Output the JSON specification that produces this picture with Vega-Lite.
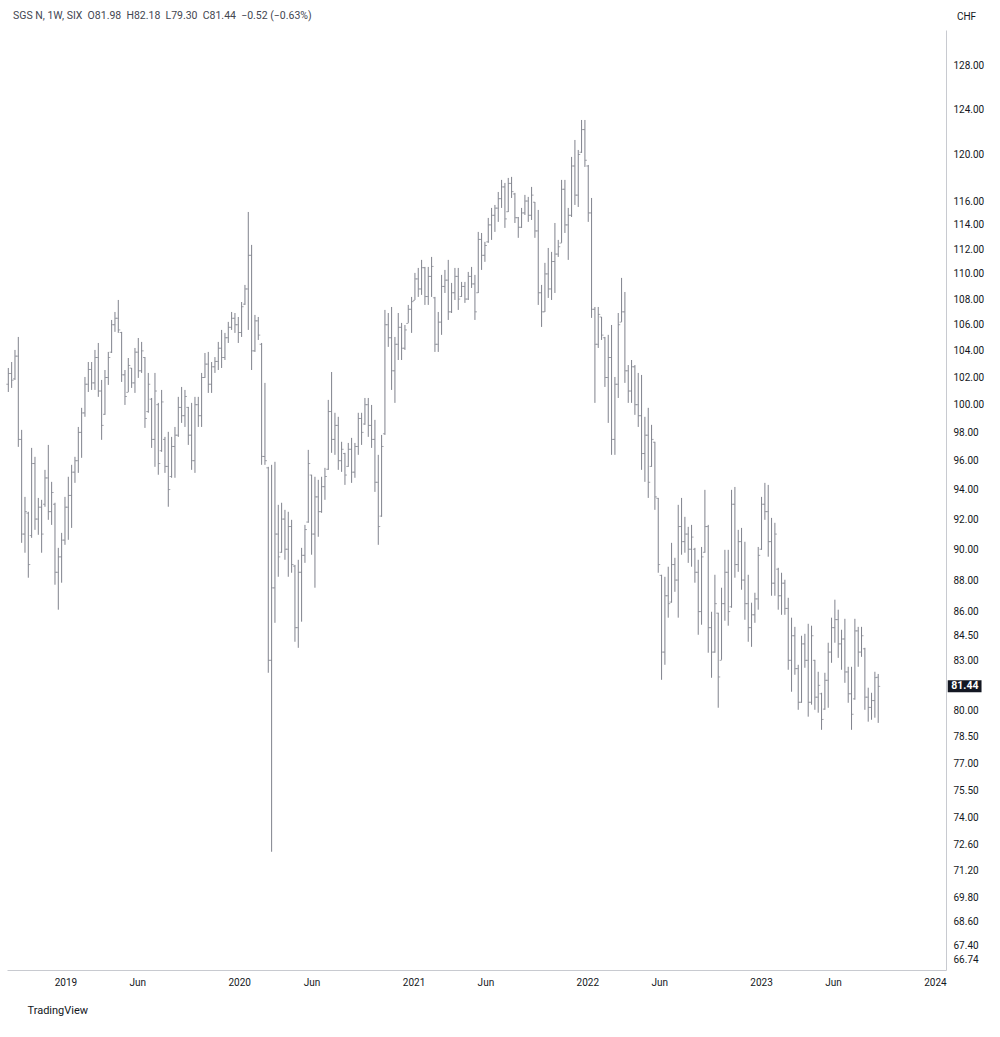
{
  "$schema": "https://vega.github.io/schema/vega-lite/v6.json",
  "width": 939,
  "height": 940,
  "autosize": {"type": "none"},
  "padding": {"left": 7, "top": 30, "right": 54, "bottom": 67},
  "background": "white",
  "title": {
    "text": "SGS N, 1W, SIX\u00a0\u00a0O81.98\u00a0\u00a0H82.18\u00a0\u00a0L79.30\u00a0\u00a0C81.44\u00a0\u00a0\u22120.52 (\u22120.63%)",
    "anchor": "start",
    "frame": "group",
    "dx": 6,
    "dy": 20,
    "offset": 10,
    "font": "Roboto",
    "fontSize": 10.5,
    "fontWeight": "normal",
    "color": "#434651"
  },
  "datasets": {
    "p": [
      {"d":"2018-09-03","o":101.5,"h":102.71,"l":100.93,"c":102.3},
      {"d":"2018-09-10","o":102.3,"h":103.16,"l":101.23,"c":101.8},
      {"d":"2018-09-17","o":101.9,"h":104.07,"l":101.82,"c":103.6},
      {"d":"2018-09-24","o":103.6,"h":105.06,"l":96.97,"c":97.5},
      {"d":"2018-10-01","o":97.5,"h":98.18,"l":90.42,"c":91.0},
      {"d":"2018-10-08","o":91.0,"h":93.5,"l":89.77,"c":92.5},
      {"d":"2018-10-15","o":92.4,"h":92.49,"l":88.15,"c":89.0},
      {"d":"2018-10-22","o":90.9,"h":96.9,"l":90.75,"c":95.8},
      {"d":"2018-10-29","o":95.8,"h":96.27,"l":91.28,"c":92.0},
      {"d":"2018-11-05","o":92.0,"h":93.43,"l":90.95,"c":92.8},
      {"d":"2018-11-12","o":92.8,"h":93.3,"l":89.77,"c":91.0},
      {"d":"2018-11-19","o":93.0,"h":95.36,"l":92.83,"c":94.8},
      {"d":"2018-11-26","o":94.8,"h":97.11,"l":91.95,"c":92.5},
      {"d":"2018-12-03","o":92.5,"h":94.53,"l":91.61,"c":93.8},
      {"d":"2018-12-10","o":93.0,"h":93.1,"l":87.7,"c":88.5},
      {"d":"2018-12-17","o":88.5,"h":90.09,"l":86.12,"c":89.5},
      {"d":"2018-12-24","o":89.5,"h":91.08,"l":87.83,"c":90.6},
      {"d":"2018-12-31","o":90.6,"h":93.5,"l":90.29,"c":92.8},
      {"d":"2019-01-07","o":92.8,"h":94.88,"l":90.62,"c":93.6},
      {"d":"2019-01-14","o":93.6,"h":95.71,"l":91.41,"c":95.2},
      {"d":"2019-01-21","o":95.2,"h":96.27,"l":94.46,"c":96.0},
      {"d":"2019-01-28","o":96.0,"h":98.39,"l":95.15,"c":98.0},
      {"d":"2019-02-04","o":98.0,"h":99.77,"l":96.2,"c":99.4},
      {"d":"2019-02-11","o":99.4,"h":102.04,"l":99.12,"c":101.5},
      {"d":"2019-02-18","o":101.5,"h":103.16,"l":100.93,"c":102.6},
      {"d":"2019-02-25","o":102.6,"h":103.16,"l":101.08,"c":101.6},
      {"d":"2019-03-04","o":101.6,"h":104.07,"l":101.08,"c":103.5},
      {"d":"2019-03-11","o":103.5,"h":104.6,"l":100.57,"c":101.0},
      {"d":"2019-03-18","o":101.0,"h":101.82,"l":97.47,"c":98.5},
      {"d":"2019-03-25","o":99.3,"h":102.56,"l":99.26,"c":102.0},
      {"d":"2019-04-01","o":102.0,"h":103.92,"l":101.45,"c":103.5},
      {"d":"2019-04-08","o":103.9,"h":106.37,"l":103.84,"c":106.0},
      {"d":"2019-04-15","o":106.0,"h":106.99,"l":105.45,"c":106.5},
      {"d":"2019-04-22","o":106.5,"h":107.93,"l":105.37,"c":105.6},
      {"d":"2019-04-29","o":105.4,"h":105.45,"l":101.67,"c":102.2},
      {"d":"2019-05-06","o":102.2,"h":102.56,"l":99.98,"c":100.6},
      {"d":"2019-05-13","o":100.9,"h":103.46,"l":100.93,"c":102.9},
      {"d":"2019-05-20","o":102.7,"h":102.71,"l":101.23,"c":101.6},
      {"d":"2019-05-27","o":101.6,"h":104.22,"l":100.86,"c":103.9},
      {"d":"2019-06-03","o":103.9,"h":104.98,"l":101.97,"c":102.5},
      {"d":"2019-06-10","o":102.5,"h":104.68,"l":102.34,"c":104.0},
      {"d":"2019-06-17","o":103.5,"h":103.53,"l":98.32,"c":99.0},
      {"d":"2019-06-24","o":99.5,"h":102.34,"l":99.41,"c":101.5},
      {"d":"2019-07-01","o":100.4,"h":100.49,"l":96.9,"c":97.5},
      {"d":"2019-07-08","o":97.5,"h":102.34,"l":95.57,"c":101.0},
      {"d":"2019-07-15","o":100.0,"h":100.13,"l":95.02,"c":95.8},
      {"d":"2019-07-22","o":96.7,"h":101.08,"l":96.62,"c":100.2},
      {"d":"2019-07-29","o":97.5,"h":97.68,"l":95.15,"c":95.6},
      {"d":"2019-08-05","o":95.6,"h":98.04,"l":92.83,"c":94.0},
      {"d":"2019-08-12","o":94.9,"h":97.68,"l":94.81,"c":97.0},
      {"d":"2019-08-19","o":97.0,"h":98.39,"l":94.81,"c":97.8},
      {"d":"2019-08-26","o":97.8,"h":100.57,"l":97.68,"c":99.8},
      {"d":"2019-09-02","o":99.8,"h":101.3,"l":98.68,"c":99.2},
      {"d":"2019-09-09","o":99.2,"h":101.08,"l":98.39,"c":100.6},
      {"d":"2019-09-16","o":99.8,"h":99.84,"l":97.11,"c":97.8},
      {"d":"2019-09-23","o":97.8,"h":100.13,"l":95.36,"c":96.0},
      {"d":"2019-09-30","o":96.0,"h":100.57,"l":95.15,"c":100.0},
      {"d":"2019-10-07","o":100.0,"h":100.57,"l":98.39,"c":99.2},
      {"d":"2019-10-14","o":99.2,"h":102.34,"l":98.39,"c":102.0},
      {"d":"2019-10-21","o":102.0,"h":103.84,"l":101.97,"c":103.0},
      {"d":"2019-10-28","o":103.0,"h":103.92,"l":100.86,"c":101.5},
      {"d":"2019-11-04","o":101.5,"h":103.16,"l":100.86,"c":102.8},
      {"d":"2019-11-11","o":102.8,"h":103.53,"l":102.34,"c":103.2},
      {"d":"2019-11-18","o":103.2,"h":104.68,"l":102.56,"c":104.2},
      {"d":"2019-11-25","o":104.2,"h":105.6,"l":102.71,"c":103.5},
      {"d":"2019-12-02","o":103.5,"h":105.37,"l":103.31,"c":105.0},
      {"d":"2019-12-09","o":105.0,"h":106.22,"l":104.6,"c":105.8},
      {"d":"2019-12-16","o":105.8,"h":106.99,"l":105.6,"c":106.5},
      {"d":"2019-12-23","o":106.5,"h":106.91,"l":105.37,"c":106.0},
      {"d":"2019-12-30","o":106.0,"h":106.6,"l":104.6,"c":105.4},
      {"d":"2020-01-06","o":105.4,"h":107.77,"l":105.06,"c":107.4},
      {"d":"2020-01-13","o":107.6,"h":109.12,"l":107.54,"c":108.8},
      {"d":"2020-01-20","o":108.8,"h":115.08,"l":105.6,"c":111.5},
      {"d":"2020-01-27","o":111.5,"h":112.35,"l":102.56,"c":104.0},
      {"d":"2020-02-03","o":104.0,"h":106.76,"l":103.92,"c":106.3},
      {"d":"2020-02-10","o":106.3,"h":106.6,"l":104.83,"c":105.2},
      {"d":"2020-02-17","o":104.5,"h":104.6,"l":95.71,"c":96.3},
      {"d":"2020-02-24","o":96.3,"h":101.6,"l":95.71,"c":96.0},
      {"d":"2020-03-02","o":95.5,"h":95.57,"l":82.25,"c":83.0},
      {"d":"2020-03-09","o":83.0,"h":95.71,"l":72.19,"c":87.5},
      {"d":"2020-03-16","o":87.5,"h":95.92,"l":85.3,"c":91.0},
      {"d":"2020-03-23","o":91.0,"h":92.96,"l":88.21,"c":89.5},
      {"d":"2020-03-30","o":89.8,"h":93.1,"l":89.77,"c":92.0},
      {"d":"2020-04-06","o":92.0,"h":92.62,"l":89.31,"c":90.0},
      {"d":"2020-04-13","o":90.0,"h":92.49,"l":88.21,"c":91.5},
      {"d":"2020-04-20","o":91.5,"h":91.95,"l":88.47,"c":89.0},
      {"d":"2020-04-27","o":88.9,"h":88.98,"l":84.13,"c":85.0},
      {"d":"2020-05-04","o":85.0,"h":89.31,"l":83.76,"c":88.5},
      {"d":"2020-05-11","o":88.5,"h":90.09,"l":85.37,"c":89.6},
      {"d":"2020-05-18","o":89.6,"h":91.61,"l":89.11,"c":91.3},
      {"d":"2020-05-25","o":91.8,"h":96.76,"l":91.75,"c":95.8},
      {"d":"2020-06-01","o":95.0,"h":95.02,"l":89.64,"c":91.0},
      {"d":"2020-06-08","o":91.0,"h":94.88,"l":87.51,"c":93.5},
      {"d":"2020-06-15","o":93.5,"h":94.67,"l":90.82,"c":92.5},
      {"d":"2020-06-22","o":92.5,"h":94.88,"l":92.42,"c":94.2},
      {"d":"2020-06-29","o":94.2,"h":95.5,"l":93.3,"c":94.9},
      {"d":"2020-07-06","o":95.4,"h":100.35,"l":95.36,"c":99.5},
      {"d":"2020-07-13","o":99.5,"h":102.41,"l":96.55,"c":97.5},
      {"d":"2020-07-20","o":97.5,"h":99.41,"l":96.41,"c":98.5},
      {"d":"2020-07-27","o":98.5,"h":99.12,"l":95.36,"c":96.0},
      {"d":"2020-08-03","o":96.0,"h":97.33,"l":95.22,"c":96.8},
      {"d":"2020-08-10","o":96.5,"h":96.55,"l":94.32,"c":95.0},
      {"d":"2020-08-17","o":95.6,"h":97.25,"l":95.57,"c":96.8},
      {"d":"2020-08-24","o":96.8,"h":97.61,"l":94.46,"c":95.2},
      {"d":"2020-08-31","o":95.2,"h":97.25,"l":94.81,"c":97.0},
      {"d":"2020-09-07","o":97.0,"h":99.41,"l":96.41,"c":99.0},
      {"d":"2020-09-14","o":99.0,"h":99.41,"l":97.11,"c":98.0},
      {"d":"2020-09-21","o":98.6,"h":100.49,"l":98.54,"c":100.0},
      {"d":"2020-09-28","o":100.0,"h":100.49,"l":97.68,"c":98.5},
      {"d":"2020-10-05","o":98.5,"h":99.98,"l":96.9,"c":97.5},
      {"d":"2020-10-12","o":97.5,"h":98.9,"l":93.84,"c":94.5},
      {"d":"2020-10-19","o":94.5,"h":96.41,"l":90.29,"c":91.5},
      {"d":"2020-10-26","o":92.2,"h":97.82,"l":92.15,"c":97.0},
      {"d":"2020-11-02","o":97.9,"h":107.15,"l":97.82,"c":106.0},
      {"d":"2020-11-09","o":106.0,"h":106.91,"l":104.3,"c":105.0},
      {"d":"2020-11-16","o":105.0,"h":107.38,"l":101.08,"c":102.5},
      {"d":"2020-11-23","o":102.5,"h":105.06,"l":100.13,"c":104.5},
      {"d":"2020-11-30","o":104.5,"h":106.91,"l":103.31,"c":105.8},
      {"d":"2020-12-07","o":105.8,"h":106.14,"l":103.31,"c":104.2},
      {"d":"2020-12-14","o":104.2,"h":105.98,"l":104.07,"c":105.6},
      {"d":"2020-12-21","o":106.1,"h":107.54,"l":106.14,"c":107.2},
      {"d":"2020-12-28","o":107.2,"h":108.17,"l":105.37,"c":107.8},
      {"d":"2021-01-04","o":107.9,"h":110.08,"l":107.93,"c":109.6},
      {"d":"2021-01-11","o":109.6,"h":110.48,"l":108.17,"c":108.8},
      {"d":"2021-01-18","o":108.8,"h":111.13,"l":108.33,"c":110.5},
      {"d":"2021-01-25","o":110.5,"h":110.56,"l":107.54,"c":108.2},
      {"d":"2021-02-01","o":108.2,"h":110.56,"l":107.54,"c":109.8},
      {"d":"2021-02-08","o":109.8,"h":111.37,"l":108.17,"c":110.6},
      {"d":"2021-02-15","o":108.1,"h":108.17,"l":103.92,"c":104.5},
      {"d":"2021-02-22","o":104.5,"h":106.99,"l":103.92,"c":106.2},
      {"d":"2021-03-01","o":106.2,"h":109.92,"l":105.22,"c":109.0},
      {"d":"2021-03-08","o":109.0,"h":110.32,"l":108.48,"c":109.5},
      {"d":"2021-03-15","o":109.5,"h":111.13,"l":106.37,"c":107.0},
      {"d":"2021-03-22","o":107.0,"h":109.28,"l":106.91,"c":108.5},
      {"d":"2021-03-29","o":108.5,"h":110.48,"l":107.93,"c":109.8},
      {"d":"2021-04-05","o":109.8,"h":110.48,"l":107.15,"c":108.0},
      {"d":"2021-04-12","o":108.2,"h":109.36,"l":108.17,"c":109.0},
      {"d":"2021-04-19","o":109.0,"h":109.36,"l":107.7,"c":108.0},
      {"d":"2021-04-26","o":108.0,"h":110.16,"l":107.93,"c":109.8},
      {"d":"2021-05-03","o":109.8,"h":110.56,"l":108.88,"c":109.2},
      {"d":"2021-05-10","o":109.2,"h":109.92,"l":106.37,"c":107.0},
      {"d":"2021-05-17","o":108.5,"h":113.42,"l":108.48,"c":112.8},
      {"d":"2021-05-24","o":112.8,"h":113.33,"l":110.32,"c":111.5},
      {"d":"2021-05-31","o":111.5,"h":112.6,"l":110.97,"c":112.3},
      {"d":"2021-06-07","o":112.6,"h":114.58,"l":112.52,"c":114.0},
      {"d":"2021-06-14","o":114.0,"h":115.42,"l":112.76,"c":114.8},
      {"d":"2021-06-21","o":114.8,"h":115.67,"l":113.42,"c":115.4},
      {"d":"2021-06-28","o":115.4,"h":116.77,"l":114.25,"c":116.2},
      {"d":"2021-07-05","o":116.2,"h":117.8,"l":115.42,"c":117.2},
      {"d":"2021-07-12","o":117.2,"h":117.54,"l":113.75,"c":114.5},
      {"d":"2021-07-19","o":115.1,"h":117.97,"l":115.08,"c":117.5},
      {"d":"2021-07-26","o":117.5,"h":118.06,"l":116.26,"c":116.8},
      {"d":"2021-08-02","o":116.6,"h":116.69,"l":114.16,"c":114.6},
      {"d":"2021-08-09","o":114.6,"h":114.66,"l":112.93,"c":113.8},
      {"d":"2021-08-16","o":113.8,"h":115.42,"l":113.75,"c":115.0},
      {"d":"2021-08-23","o":115.0,"h":116.52,"l":114.83,"c":116.0},
      {"d":"2021-08-30","o":116.0,"h":116.35,"l":114.25,"c":114.8},
      {"d":"2021-09-06","o":114.8,"h":117.2,"l":114.41,"c":116.5},
      {"d":"2021-09-13","o":115.9,"h":115.92,"l":112.93,"c":113.5},
      {"d":"2021-09-20","o":113.5,"h":115.25,"l":107.54,"c":108.5},
      {"d":"2021-09-27","o":108.5,"h":109.12,"l":105.83,"c":107.0},
      {"d":"2021-10-04","o":107.0,"h":110.89,"l":106.99,"c":110.0},
      {"d":"2021-10-11","o":110.0,"h":112.1,"l":108.09,"c":108.8},
      {"d":"2021-10-18","o":108.8,"h":111.78,"l":107.93,"c":111.0},
      {"d":"2021-10-25","o":111.0,"h":114.16,"l":108.48,"c":111.6},
      {"d":"2021-11-01","o":111.6,"h":112.76,"l":111.37,"c":112.2},
      {"d":"2021-11-08","o":112.5,"h":117.8,"l":112.52,"c":117.0},
      {"d":"2021-11-15","o":117.0,"h":117.8,"l":113.33,"c":114.0},
      {"d":"2021-11-22","o":114.0,"h":115.42,"l":111.13,"c":114.8},
      {"d":"2021-11-29","o":114.8,"h":119.79,"l":114.66,"c":119.0},
      {"d":"2021-12-06","o":119.0,"h":121.28,"l":115.67,"c":116.5},
      {"d":"2021-12-13","o":116.5,"h":120.4,"l":115.5,"c":120.0},
      {"d":"2021-12-20","o":120.2,"h":123.06,"l":120.14,"c":122.2},
      {"d":"2021-12-27","o":122.2,"h":123.06,"l":118.92,"c":119.5},
      {"d":"2022-01-03","o":119.0,"h":119.09,"l":114.25,"c":115.0},
      {"d":"2022-01-10","o":115.0,"h":116.26,"l":106.53,"c":107.2},
      {"d":"2022-01-17","o":107.2,"h":107.38,"l":100.13,"c":104.5},
      {"d":"2022-01-24","o":104.5,"h":107.38,"l":104.22,"c":106.8},
      {"d":"2022-01-31","o":106.6,"h":106.6,"l":104.83,"c":105.2},
      {"d":"2022-02-07","o":105.0,"h":105.06,"l":101.3,"c":102.0},
      {"d":"2022-02-14","o":102.0,"h":105.22,"l":98.68,"c":103.5},
      {"d":"2022-02-21","o":103.5,"h":105.98,"l":96.41,"c":97.5},
      {"d":"2022-02-28","o":97.5,"h":102.04,"l":96.41,"c":101.5},
      {"d":"2022-03-07","o":101.5,"h":106.91,"l":100.49,"c":106.0},
      {"d":"2022-03-14","o":106.2,"h":109.68,"l":106.22,"c":107.0},
      {"d":"2022-03-21","o":107.0,"h":108.56,"l":101.6,"c":102.5},
      {"d":"2022-03-28","o":102.5,"h":102.93,"l":100.13,"c":101.0},
      {"d":"2022-04-04","o":101.0,"h":103.31,"l":100.13,"c":102.8},
      {"d":"2022-04-11","o":102.8,"h":102.93,"l":99.26,"c":100.0},
      {"d":"2022-04-18","o":100.0,"h":102.34,"l":98.39,"c":99.2},
      {"d":"2022-04-25","o":99.2,"h":102.19,"l":95.36,"c":96.5},
      {"d":"2022-05-02","o":96.5,"h":99.12,"l":94.53,"c":97.8},
      {"d":"2022-05-09","o":97.8,"h":99.77,"l":93.43,"c":94.5},
      {"d":"2022-05-16","o":95.6,"h":98.54,"l":95.57,"c":97.5},
      {"d":"2022-05-23","o":97.3,"h":97.33,"l":92.62,"c":93.5},
      {"d":"2022-05-30","o":93.4,"h":93.43,"l":88.47,"c":89.0},
      {"d":"2022-06-06","o":88.3,"h":88.34,"l":81.83,"c":83.5},
      {"d":"2022-06-13","o":83.5,"h":88.21,"l":82.73,"c":87.0},
      {"d":"2022-06-20","o":87.0,"h":88.86,"l":85.62,"c":86.5},
      {"d":"2022-06-27","o":86.6,"h":90.42,"l":86.56,"c":89.0},
      {"d":"2022-07-04","o":89.0,"h":89.44,"l":87.25,"c":88.0},
      {"d":"2022-07-11","o":88.0,"h":92.96,"l":85.62,"c":91.5},
      {"d":"2022-07-18","o":91.5,"h":93.43,"l":89.64,"c":90.5},
      {"d":"2022-07-25","o":90.5,"h":92.15,"l":89.77,"c":91.0},
      {"d":"2022-08-01","o":91.0,"h":91.48,"l":89.11,"c":90.0},
      {"d":"2022-08-08","o":90.0,"h":91.61,"l":88.86,"c":90.8},
      {"d":"2022-08-15","o":90.0,"h":90.09,"l":87.83,"c":88.5},
      {"d":"2022-08-22","o":88.5,"h":89.31,"l":84.56,"c":86.0},
      {"d":"2022-08-29","o":86.0,"h":90.15,"l":85.18,"c":89.5},
      {"d":"2022-09-05","o":89.8,"h":93.98,"l":89.77,"c":91.5},
      {"d":"2022-09-12","o":91.5,"h":91.61,"l":83.46,"c":85.0},
      {"d":"2022-09-19","o":85.0,"h":85.99,"l":81.95,"c":83.5},
      {"d":"2022-09-26","o":83.5,"h":88.34,"l":83.46,"c":86.5},
      {"d":"2022-10-03","o":85.9,"h":85.93,"l":80.18,"c":82.0},
      {"d":"2022-10-10","o":83.0,"h":87.51,"l":83.03,"c":86.5},
      {"d":"2022-10-17","o":86.5,"h":89.96,"l":85.43,"c":88.5},
      {"d":"2022-10-24","o":88.5,"h":89.96,"l":85.12,"c":86.0},
      {"d":"2022-10-31","o":86.3,"h":93.98,"l":86.24,"c":93.0},
      {"d":"2022-11-07","o":93.0,"h":94.18,"l":88.15,"c":89.0},
      {"d":"2022-11-14","o":89.0,"h":91.28,"l":88.53,"c":90.5},
      {"d":"2022-11-21","o":90.5,"h":91.41,"l":87.38,"c":88.0},
      {"d":"2022-11-28","o":88.0,"h":90.49,"l":85.49,"c":86.5},
      {"d":"2022-12-05","o":86.5,"h":88.34,"l":84.13,"c":85.0},
      {"d":"2022-12-12","o":85.0,"h":86.56,"l":83.82,"c":85.8},
      {"d":"2022-12-19","o":85.8,"h":87.19,"l":85.3,"c":86.8},
      {"d":"2022-12-26","o":86.8,"h":90.15,"l":86.12,"c":89.6},
      {"d":"2023-01-02","o":90.0,"h":93.5,"l":89.96,"c":93.0},
      {"d":"2023-01-09","o":93.0,"h":94.46,"l":91.95,"c":92.5},
      {"d":"2023-01-16","o":92.5,"h":94.32,"l":89.51,"c":90.5},
      {"d":"2023-01-23","o":90.5,"h":92.08,"l":87.0,"c":87.8},
      {"d":"2023-01-30","o":87.8,"h":91.75,"l":87.0,"c":91.0},
      {"d":"2023-02-06","o":88.7,"h":88.79,"l":86.12,"c":87.0},
      {"d":"2023-02-13","o":87.0,"h":88.47,"l":85.8,"c":87.8},
      {"d":"2023-02-20","o":87.8,"h":88.02,"l":85.8,"c":86.2},
      {"d":"2023-02-27","o":86.2,"h":86.87,"l":82.43,"c":83.0},
      {"d":"2023-03-06","o":83.0,"h":85.62,"l":81.12,"c":84.5},
      {"d":"2023-03-13","o":84.5,"h":85.05,"l":82.13,"c":82.5},
      {"d":"2023-03-20","o":82.5,"h":82.73,"l":80.06,"c":80.5},
      {"d":"2023-03-27","o":80.5,"h":84.5,"l":80.47,"c":84.0},
      {"d":"2023-04-03","o":84.0,"h":84.62,"l":82.55,"c":83.0},
      {"d":"2023-04-10","o":83.0,"h":85.24,"l":79.66,"c":80.5},
      {"d":"2023-04-17","o":80.5,"h":85.12,"l":80.36,"c":84.5},
      {"d":"2023-04-24","o":83.0,"h":83.03,"l":80.06,"c":80.8},
      {"d":"2023-05-01","o":80.8,"h":82.31,"l":79.89,"c":81.5},
      {"d":"2023-05-08","o":81.0,"h":81.06,"l":78.9,"c":79.5},
      {"d":"2023-05-15","o":80.1,"h":82.25,"l":80.06,"c":81.8},
      {"d":"2023-05-22","o":81.8,"h":84.07,"l":80.18,"c":83.5},
      {"d":"2023-05-29","o":83.5,"h":85.62,"l":82.85,"c":85.0},
      {"d":"2023-06-05","o":85.0,"h":86.75,"l":84.07,"c":85.5},
      {"d":"2023-06-12","o":85.5,"h":86.12,"l":83.15,"c":84.0},
      {"d":"2023-06-19","o":84.0,"h":84.87,"l":82.43,"c":84.3},
      {"d":"2023-06-26","o":84.3,"h":85.55,"l":81.65,"c":82.3},
      {"d":"2023-07-03","o":82.3,"h":82.61,"l":80.47,"c":81.0},
      {"d":"2023-07-10","o":81.0,"h":82.61,"l":78.9,"c":79.8},
      {"d":"2023-07-17","o":80.7,"h":85.55,"l":80.65,"c":84.8},
      {"d":"2023-07-24","o":84.8,"h":85.05,"l":82.61,"c":83.5},
      {"d":"2023-07-31","o":83.5,"h":85.05,"l":83.21,"c":84.5},
      {"d":"2023-08-07","o":83.7,"h":83.76,"l":80.06,"c":80.8},
      {"d":"2023-08-14","o":80.8,"h":81.36,"l":79.37,"c":80.2},
      {"d":"2023-08-21","o":80.2,"h":81.06,"l":79.48,"c":80.6},
      {"d":"2023-08-28","o":80.6,"h":82.31,"l":79.6,"c":81.96},
      {"d":"2023-09-04","o":81.98,"h":82.18,"l":79.3,"c":81.44}
    ]
  },
  "data": {"name": "p"},
  "encoding": {
    "x": {
      "field": "d",
      "type": "temporal",
      "scale": {
        "type": "utc",
        "domain": [
          {"year": 2018, "month": 8, "date": 31, "hours": 6, "utc": true},
          {"year": 2024, "month": 1, "date": 24, "hours": 9, "utc": true}
        ]
      },
      "axis": {
        "orient": "bottom",
        "values": [
          {"year": 2019, "month": 1, "date": 1, "utc": true},
          {"year": 2019, "month": 6, "date": 1, "utc": true},
          {"year": 2020, "month": 1, "date": 1, "utc": true},
          {"year": 2020, "month": 6, "date": 1, "utc": true},
          {"year": 2021, "month": 1, "date": 1, "utc": true},
          {"year": 2021, "month": 6, "date": 1, "utc": true},
          {"year": 2022, "month": 1, "date": 1, "utc": true},
          {"year": 2022, "month": 6, "date": 1, "utc": true},
          {"year": 2023, "month": 1, "date": 1, "utc": true},
          {"year": 2023, "month": 6, "date": 1, "utc": true},
          {"year": 2024, "month": 1, "date": 1, "utc": true}
        ],
        "labelExpr": "utcFormat(datum.value, '%m') == '01' ? utcFormat(datum.value, '%Y') : utcFormat(datum.value, '%b')",
        "labelOverlap": false,
        "labelFlush": false,
        "labelPadding": 7,
        "ticks": false,
        "grid": false,
        "domainColor": "#c8cad0",
        "title": "TradingView",
        "titleAnchor": "start",
        "titleAlign": "left",
        "titleX": 20,
        "titleY": 40,
        "titleBaseline": "middle",
        "titleFont": "Roboto",
        "titleFontSize": 11,
        "titleFontWeight": "normal",
        "titleColor": "#131722"
      }
    }
  },
  "layer": [
    {
      "mark": {"type": "rule", "color": "#80838d", "strokeWidth": 1},
      "encoding": {
        "y": {
          "field": "l",
          "type": "quantitative",
          "scale": {"type": "log", "domain": [66.23, 131.4], "nice": false, "zero": false},
          "axis": {
            "orient": "right",
            "values": [128, 124, 120, 116, 114, 112, 110, 108, 106, 104, 102, 100, 98, 96, 94, 92, 90, 88, 86, 84.5, 83, 80, 78.5, 77, 75.5, 74, 72.6, 71.2, 69.8, 68.6, 67.4, 66.74],
            "format": ".2f",
            "labelOverlap": false,
            "labelAlign": "left",
            "labelPadding": 7,
            "ticks": false,
            "grid": false,
            "domainColor": "#c8cad0",
            "title": "CHF",
            "titleAngle": 0,
            "titleX": 20,
            "titleY": -14,
            "titleAlign": "center",
            "titleBaseline": "middle",
            "titleFont": "Roboto",
            "titleFontSize": 10,
            "titleFontWeight": "normal",
            "titleColor": "#131722"
          }
        },
        "y2": {"field": "h"}
      }
    },
    {
      "mark": {"type": "tick", "orient": "horizontal", "size": 2, "thickness": 1, "xOffset": -1, "color": "#80838d"},
      "encoding": {"y": {"field": "o", "type": "quantitative"}}
    },
    {
      "mark": {"type": "tick", "orient": "horizontal", "size": 2, "thickness": 1, "xOffset": 1, "color": "#80838d"},
      "encoding": {"y": {"field": "c", "type": "quantitative"}}
    },
    {
      "transform": [{"filter": "datum.c == 81.44"}],
      "mark": {"type": "rule", "color": "#131722", "strokeWidth": 12, "strokeCap": "butt", "clip": false},
      "encoding": {
        "x": {"datum": 1706400000000, "type": "temporal"},
        "x2": {"datum": 1712534400000},
        "y": {"field": "c", "type": "quantitative"}
      }
    },
    {
      "transform": [{"filter": "datum.c == 81.44"}],
      "mark": {"type": "text", "color": "white", "font": "Roboto", "fontSize": 10.5, "fontWeight": "bold", "align": "center", "baseline": "middle", "clip": false},
      "encoding": {
        "x": {"datum": 1709510400000, "type": "temporal"},
        "y": {"field": "c", "type": "quantitative"},
        "text": {"field": "c", "type": "quantitative", "format": ".2f"}
      }
    }
  ],
  "config": {
    "view": {"stroke": null},
    "axis": {
      "labelFont": "Roboto",
      "labelFontSize": 10,
      "labelColor": "#131722"
    }
  }
}
